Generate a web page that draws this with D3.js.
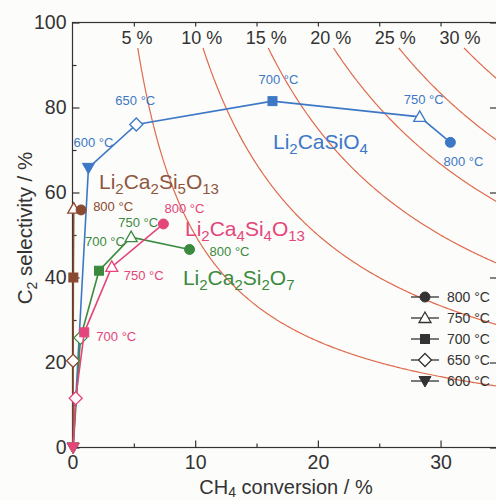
<!DOCTYPE html>
<html>
<head>
<meta charset="utf-8">
<script src="https://cdn.jsdelivr.net/npm/d3@7"></script>
<style>
  html, body { margin: 0; padding: 0; background: #fcfcfa; }
  svg { display: block; font-family: "Liberation Sans", Arial, sans-serif; }
</style>
</head>
<body>
<svg id="chart"></svg>
<script>
// ---- data ----
const tempLabels = ["600 °C", "650 °C", "700 °C", "750 °C", "800 °C"];
const markerShapes = ["triangleDown", "diamond", "square", "triangleUp", "circle"];

// Li2CaSiO4 (first point is the unmarked start of the line at the origin)
const casio4Conv = [0.05, 1.3, 5.2, 16.3, 28.3, 30.8];
const casio4Sel  = [0, 65.8, 76.0, 81.5, 77.8, 71.8];
const casio4Temp = [null, 0, 1, 2, 3, 4];

// Li2Ca2Si5O13
const si5Conv = [0.05, 0.05, 0.07, 0.1, 0.7];
const si5Sel  = [0, 20.4, 40.0, 56.2, 55.9];
const si5Temp = [0, 1, 2, 3, 4];

// Li2Ca2Si2O7
const si2Conv = [0.05, 0.65, 2.16, 4.78, 9.54];
const si2Sel  = [0, 25.8, 41.6, 49.5, 46.6];
const si2Temp = [0, 1, 2, 3, 4];

// Li2Ca4Si4O13
const si4Conv = [0.05, 0.26, 0.96, 3.2, 7.41];
const si4Sel  = [0, 11.6, 27.1, 42.5, 52.6];
const si4Temp = [0, 1, 2, 3, 4];

// iso-yield levels (%)
const yieldLevels = [5, 10, 15, 20, 25, 30];

const xTicks = [0, 10, 20, 30];
const yTicks = [0, 20, 40, 60, 80, 100];

// ---- layout ----
const width = 496, height = 500;
const x = d3.scaleLinear().domain([0, 34.6]).range([72.5, 497]);
const y = d3.scaleLinear().domain([0, 100]).range([447.5, 22.5]);

const svg = d3.select("#chart").attr("width", width).attr("height", height);

svg.append("defs").append("clipPath").attr("id", "plot")
  .append("rect")
    .attr("x", x(0)).attr("y", y(100))
    .attr("width", x(34.6) - x(0)).attr("height", y(0) - y(100));

// iso-yield curves: selectivity = yield / conversion
const curveG = svg.append("g").attr("clip-path", "url(#plot)");
const curveLine = d3.line().x(d => x(d[0])).y(d => y(d[1]));
yieldLevels.forEach(Y => {
  const pts = d3.range(Y / 0.94, 36, 0.1).map(c => [c, Y / c * 100]);
  curveG.append("path")
    .attr("d", curveLine(pts))
    .attr("fill", "none")
    .attr("stroke", "#df6b4e")
    .attr("stroke-width", 1.2);
});
svg.append("g").selectAll("text")
  .data(yieldLevels)
  .join("text")
    .attr("x", d => x(d / 0.95))
    .attr("y", 44)
    .attr("text-anchor", "middle")
    .attr("font-size", 18)
    .attr("fill", "#333")
    .text(d => d + " %");

// ---- frame + axes ----
const ax = "#333";
svg.append("rect")
  .attr("x", x(0)).attr("y", y(100))
  .attr("width", x(34.6) - x(0)).attr("height", y(0) - y(100))
  .attr("fill", "none").attr("stroke", ax).attr("stroke-width", 1.2);

function styleAxis(g) {
  g.select(".domain").remove();
  g.selectAll(".tick line").attr("stroke", ax).attr("stroke-width", 1.2);
  g.selectAll(".tick text").attr("fill", "#333").attr("font-size", 19.5)
    .attr("font-family", "Liberation Sans, Arial, sans-serif");
}

svg.append("g").attr("transform", `translate(0,${y(0)})`)
  .call(d3.axisBottom(x).tickValues(xTicks).tickSize(-7).tickPadding(8))
  .call(styleAxis);
svg.append("g").attr("transform", `translate(0,${y(0)})`)
  .call(d3.axisBottom(x).tickValues([5, 15, 25]).tickSize(-4).tickFormat(""))
  .call(styleAxis);
svg.append("g").attr("transform", `translate(0,${y(100)})`)
  .call(d3.axisTop(x).tickValues([5, 10, 15, 20, 25, 30]).tickSize(-4).tickFormat(""))
  .call(styleAxis);
svg.append("g").attr("transform", `translate(${x(0)},0)`)
  .call(d3.axisLeft(y).tickValues(yTicks).tickSize(-7).tickPadding(6))
  .call(styleAxis);
svg.append("g").attr("transform", `translate(${x(0)},0)`)
  .call(d3.axisLeft(y).tickValues([10, 30, 50, 70, 90]).tickSize(-4).tickFormat(""))
  .call(styleAxis);
svg.append("g").attr("transform", `translate(${x(34.6)},0)`)
  .call(d3.axisRight(y).tickValues(yTicks).tickSize(-7).tickFormat(""))
  .call(styleAxis);

// axis titles
const xt = svg.append("text")
  .attr("x", 286).attr("y", 494)
  .attr("text-anchor", "middle").attr("font-size", 20).attr("fill", "#333");
xt.append("tspan").text("CH");
xt.append("tspan").attr("font-size", 14).attr("dy", 3).text("4");
xt.append("tspan").attr("dy", -3).text(" conversion / %");

const yt = svg.append("text")
  .attr("transform", "translate(32,228) rotate(-90)")
  .attr("text-anchor", "middle").attr("font-size", 20.5).attr("fill", "#333");
yt.append("tspan").text("C");
yt.append("tspan").attr("font-size", 14).attr("dy", 5).text("2");
yt.append("tspan").attr("dy", -5).text(" selectivity / %");

// ---- markers ----
function drawMarker(g, shape, cx, cy, color) {
  const white = "#fff";
  if (shape === "circle") {
    g.append("circle").attr("cx", cx).attr("cy", cy).attr("r", 5)
      .attr("fill", color).attr("stroke", color);
  } else if (shape === "square") {
    g.append("rect").attr("x", cx - 4.5).attr("y", cy - 4.5)
      .attr("width", 9).attr("height", 9).attr("fill", color).attr("stroke", color);
  } else if (shape === "triangleUp") {
    g.append("path").attr("d", `M${cx},${cy - 6}L${cx + 6},${cy + 4.5}L${cx - 6},${cy + 4.5}Z`)
      .attr("fill", white).attr("stroke", color).attr("stroke-width", 1.3);
  } else if (shape === "triangleDown") {
    g.append("path").attr("d", `M${cx - 6},${cy - 4.5}L${cx + 6},${cy - 4.5}L${cx},${cy + 6}Z`)
      .attr("fill", color).attr("stroke", color);
  } else if (shape === "diamond") {
    g.append("path").attr("d", `M${cx},${cy - 6.5}L${cx + 6.5},${cy}L${cx},${cy + 6.5}L${cx - 6.5},${cy}Z`)
      .attr("fill", white).attr("stroke", color).attr("stroke-width", 1.3);
  }
}

// ---- series ----
const series = [
  { conv: casio4Conv, sel: casio4Sel, temp: casio4Temp, color: "#3d78c6",
    labels: [null, [5, -25], [-1, -24], [6, -22], [4, -17], [13, 19]] },
  { conv: si5Conv, sel: si5Sel, temp: si5Temp, color: "#8a4a30",
    labels: [null, null, null, null, [32, -3]] },
  { conv: si2Conv, sel: si2Sel, temp: si2Temp, color: "#3b8a3e",
    labels: [null, null, [6, -29], [7, -15], [40, 2]] },
  { conv: si4Conv, sel: si4Sel, temp: si4Temp, color: "#e4457b",
    labels: [null, null, [32, 4], [32, 9], [21, -15]] }
];

const line = d3.line().x(d => x(d[0])).y(d => y(d[1]));
series.forEach(s => {
  const pts = s.conv.map((c, i) => [c, s.sel[i], s.temp[i]]);
  const g = svg.append("g");
  g.append("path").attr("d", line(pts))
    .attr("fill", "none").attr("stroke", s.color).attr("stroke-width", 1.6);
  pts.forEach((p, i) => {
    if (p[2] !== null) drawMarker(g, markerShapes[p[2]], x(p[0]), y(p[1]), s.color);
    const off = s.labels[i];
    if (off) {
      g.append("text")
        .attr("x", x(p[0]) + off[0]).attr("y", y(p[1]) + off[1] + 4.5)
        .attr("text-anchor", "middle").attr("font-size", 13)
        .attr("fill", s.color).text(tempLabels[p[2]]);
    }
  });
});

// ---- compound names ----
const names = [
  { parts: [["Li", 0], ["2", 1], ["CaSiO", 0], ["4", 1]], conv: 16.34, sel: 71.9, color: "#3d78c6" },
  { parts: [["Li", 0], ["2", 1], ["Ca", 0], ["2", 1], ["Si", 0], ["5", 1], ["O", 0], ["13", 1]], conv: 2.16, sel: 62.5, color: "#8e5640" },
  { parts: [["Li", 0], ["2", 1], ["Ca", 0], ["4", 1], ["Si", 0], ["4", 1], ["O", 0], ["13", 1]], conv: 9.17, sel: 51.4, color: "#e4457b" },
  { parts: [["Li", 0], ["2", 1], ["Ca", 0], ["2", 1], ["Si", 0], ["2", 1], ["O", 0], ["7", 1]], conv: 9.0, sel: 39.9, color: "#3b8a3e" }
];
names.forEach(n => {
  const t = svg.append("text")
    .attr("x", x(n.conv)).attr("y", y(n.sel) + 7)
    .attr("font-size", 21).attr("fill", n.color);
  let prevSub = 0;
  n.parts.forEach(([txt, sub]) => {
    const ts = t.append("tspan").text(txt);
    if (sub && !prevSub) ts.attr("dy", 5).attr("font-size", 15);
    else if (!sub && prevSub) ts.attr("dy", -5);
    else if (sub) ts.attr("font-size", 15);
    prevSub = sub;
  });
});

// ---- legend ----
const legendOrder = [4, 3, 2, 1, 0];
const lg = svg.append("g");
legendOrder.forEach((ti, k) => {
  const ly = 297 + k * 21;
  lg.append("line").attr("x1", 411).attr("x2", 439).attr("y1", ly).attr("y2", ly)
    .attr("stroke", "#333").attr("stroke-width", 1.3);
  drawMarker(lg, markerShapes[ti], 425, ly, "#333");
  lg.append("text").attr("x", 447).attr("y", ly + 5)
    .attr("font-size", 14).attr("fill", "#333").text(tempLabels[ti]);
});
</script>
</body>
</html>
